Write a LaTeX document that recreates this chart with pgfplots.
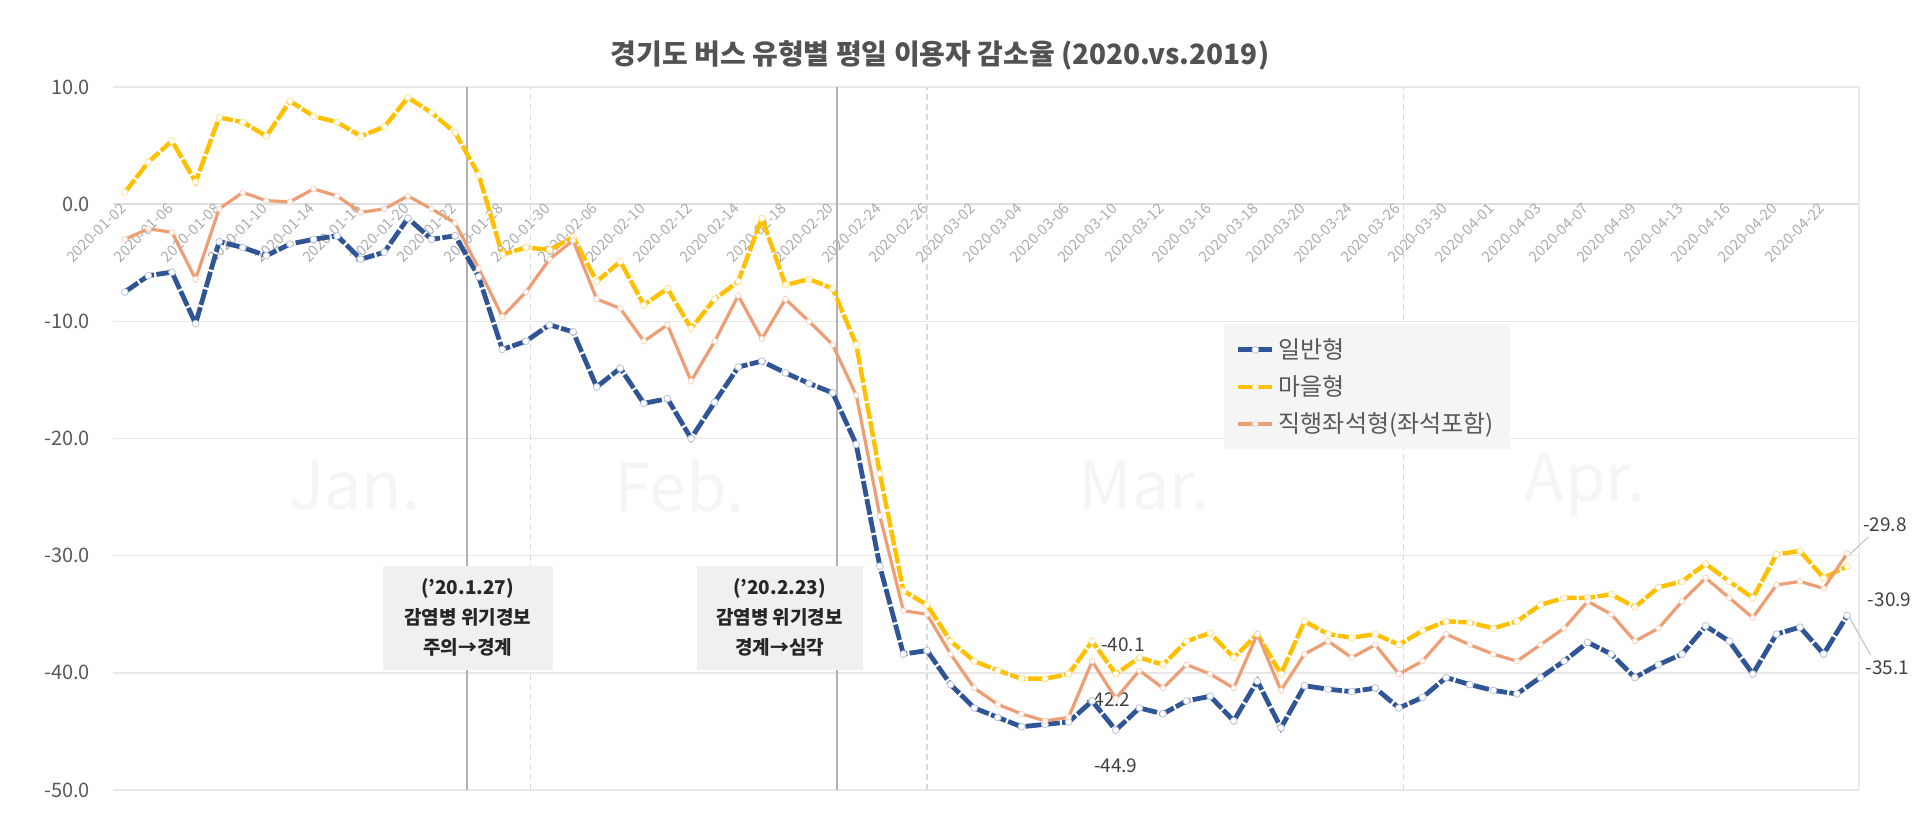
\documentclass[border=0pt]{standalone}
\usepackage{pgfplots}
\usepackage{pgfplotstable}
\pgfplotsset{compat=1.18}
\usepackage{fontspec}
\setmainfont{Noto Sans CJK KR}

\definecolor{cblue}{HTML}{2F5597}
\definecolor{cyellow}{HTML}{FFC000}
\definecolor{corange}{HTML}{EE9E74}
\definecolor{ctext}{HTML}{595959}

% idx  일반형  마을형  직행좌석형
\pgfplotstableread{
i  blue   yellow  orange
0  -7.5   1.0   -3.0
1  -6.1   3.6   -2.1
2  -5.8   5.4   -2.4
3  -10.2  1.9   -6.4
4  -3.2   7.4   -0.4
5  -3.7   7.0    1.0
6  -4.4   5.8    0.3
7  -3.4   8.8    0.2
8  -3.0   7.5    1.3
9  -2.7   7.0    0.7
10 -4.7   5.8   -0.7
11 -4.1   6.6   -0.4
12 -1.2   9.1    0.7
13 -3.0   7.8   -0.4
14 -2.7   6.1   -1.6
15 -6.2   2.5   -5.5
16 -12.4 -4.3   -9.6
17 -11.7 -3.7   -7.5
18 -10.3 -3.9   -4.7
19 -10.9 -2.8   -3.1
20 -15.6 -6.6   -8.1
21 -14.0 -4.9   -8.9
22 -17.0 -8.6   -11.7
23 -16.6 -7.2   -10.3
24 -20.0 -10.6  -15.1
25 -16.9 -8.1   -11.7
26 -13.9 -6.6   -7.8
27 -13.4 -1.2   -11.5
28 -14.4 -6.9   -8.1
29 -15.3 -6.4   -10.0
30 -16.1 -7.2   -12.0
31 -20.5 -12.0  -16.3
32 -30.9 -23.0  -26.6
33 -38.4 -33.0  -34.7
34 -38.1 -34.2  -35.0
35 -41.0 -37.3  -38.4
36 -43.0 -39.0  -41.3
37 -43.8 -39.8  -42.7
38 -44.6 -40.5  -43.5
39 -44.4 -40.5  -44.1
40 -44.2 -40.1  -43.8
41 -42.4 -37.3  -39.0
42 -44.9 -40.1  -42.2
43 -43.0 -38.7  -39.8
44 -43.5 -39.3  -41.3
45 -42.4 -37.3  -39.3
46 -42.0 -36.6  -40.1
47 -44.1 -38.7  -41.3
48 -40.7 -36.7  -36.7
49 -44.7 -40.1  -41.5
50 -41.1 -35.6  -38.4
51 -41.4 -36.7  -37.3
52 -41.6 -37.0  -38.7
53 -41.3 -36.7  -37.6
54 -43.0 -37.6  -40.1
55 -42.1 -36.4  -39.0
56 -40.4 -35.6  -36.7
57 -41.0 -35.7  -37.6
58 -41.5 -36.2  -38.4
59 -41.8 -35.6  -39.0
60 -40.4 -34.2  -37.6
61 -39.0 -33.6  -36.2
62 -37.4 -33.6  -33.9
63 -38.4 -33.3  -35.0
64 -40.4 -34.4  -37.3
65 -39.3 -32.7  -36.2
66 -38.4 -32.2  -33.9
67 -36.0 -30.7  -31.9
68 -37.3 -32.2  -33.6
69 -40.1 -33.6  -35.3
70 -36.7 -29.9  -32.5
71 -36.1 -29.6  -32.2
72 -38.4 -31.9  -32.8
73 -35.1 -30.9  -29.8
}\busdata

\begin{document}
\begin{tikzpicture}
\useasboundingbox (-56.5pt,-14.5pt) rectangle (903.5pt,395pt);
\begin{axis}[
  at={(0,0)}, anchor=south west,
  width=873pt, height=351.5pt, scale only axis,
  xmin=-0.5, xmax=73.5, ymin=-50, ymax=10,
  clip=false,
  axis x line*=middle, axis y line*=left,
  x axis line style={draw=gray!25, line width=0.9pt, -},
  y axis line style={draw=none},
  major tick length=0pt,
  ymajorgrids, major grid style={draw=gray!18, line width=0.8pt},
  ytick={-50,-40,...,10},
  /pgf/number format/fixed,
  /pgf/number format/fixed zerofill,
  /pgf/number format/precision=1,
  /pgf/number format/assume math mode=true,
  yticklabel style={font=\fontsize{10}{12}\selectfont, text=ctext, xshift=-8pt},
  xtick={0,2,...,72},
  xticklabels={2020-01-02,2020-01-06,2020-01-08,2020-01-10,2020-01-14,2020-01-16,2020-01-20,2020-01-22,2020-01-28,2020-01-30,2020-02-06,2020-02-10,2020-02-12,2020-02-14,2020-02-18,2020-02-20,2020-02-24,2020-02-26,2020-03-02,2020-03-04,2020-03-06,2020-03-10,2020-03-12,2020-03-16,2020-03-18,2020-03-20,2020-03-24,2020-03-26,2020-03-30,2020-04-01,2020-04-03,2020-04-07,2020-04-09,2020-04-13,2020-04-16,2020-04-20,2020-04-22},
  xticklabel style={rotate=45, anchor=east, font=\fontsize{7.4}{8}\selectfont, text=gray!65, inner sep=1pt},
  legend style={at={(rel axis cs:0.636,0.663)}, anchor=north west, fill=gray!8, draw=none,
    font=\fontsize{12}{14}\selectfont, text=ctext, row sep=3pt, inner xsep=6pt, inner ysep=5pt},
  legend cell align=left,
]
% month labels
\node[font=\fontsize{33}{33}\selectfont, text=gray!8] at (axis cs:9.75,-24) {Jan.};
\node[font=\fontsize{33}{33}\selectfont, text=gray!8] at (axis cs:23.5,-24) {Feb.};
\node[font=\fontsize{33}{33}\selectfont, text=gray!8] at (axis cs:43.2,-24) {Mar.};
\node[font=\fontsize{33}{33}\selectfont, text=gray!8] at (axis cs:61.9,-24) {Apr.};
% month boundaries and plot border
\draw[gray!30, line width=0.8pt, dash pattern=on 3pt off 2pt] (axis cs:17.2,-50) -- (axis cs:17.2,10);
\draw[gray!30, line width=0.8pt, dash pattern=on 3pt off 2pt] (axis cs:34.0,-50) -- (axis cs:34.0,10);
\draw[gray!30, line width=0.8pt, dash pattern=on 3pt off 2pt] (axis cs:54.2,-50) -- (axis cs:54.2,10);
\draw[gray!15, line width=0.8pt] (axis cs:73.5,-50) -- (axis cs:73.5,10);
% event lines
\draw[gray!60, line width=1.1pt] (axis cs:14.5,-50) -- (axis cs:14.5,10);
\draw[gray!60, line width=1.1pt] (axis cs:30.2,-50) -- (axis cs:30.2,10);
\node[fill=gray!12, minimum width=85pt, minimum height=52pt, align=center, text=black!85,
  font=\bfseries\fontsize{9.5}{15}\selectfont] at (axis cs:14.53,-35.3)
  {(’20.1.27)\\감염병 위기경보\\주의→경계};
\node[fill=gray!12, minimum width=83pt, minimum height=52pt, align=center, text=black!85,
  font=\bfseries\fontsize{9.5}{15}\selectfont] at (axis cs:27.75,-35.3)
  {(’20.2.23)\\감염병 위기경보\\경계→심각};
\node[font=\fontsize{9.5}{11}\selectfont, text=black!75] at (axis cs:41.7,-42.3) {-42.2};

\addplot[color=cblue, line width=2.4pt, dash pattern=on 8pt off 1.2pt,
  mark=*, mark size=1.7pt, mark options={solid, fill=white, draw=cblue!35, line width=0.4pt}]
  table[x=i, y=blue] {\busdata};
\addlegendentry{일반형}
\addplot[color=cyellow, line width=2.2pt, dash pattern=on 8pt off 1.2pt,
  mark=*, mark size=1.6pt, mark options={solid, fill=white, draw=cyellow!45, line width=0.4pt}]
  table[x=i, y=yellow] {\busdata};
\addlegendentry{마을형}
\addplot[color=corange, line width=1.6pt,
  mark=*, mark size=1.4pt, mark options={solid, fill=white, draw=corange!45, line width=0.4pt}]
  table[x=i, y=orange] {\busdata};
\addlegendentry{직행좌석형(좌석포함)}

% data labels
\node[font=\fontsize{9.5}{11}\selectfont, text=black!75] at (axis cs:42.3,-37.6) {-40.1};
\node[font=\fontsize{9.5}{11}\selectfont, text=black!75] at (axis cs:42.0,-47.9) {-44.9};
\draw[gray!50, line width=0.5pt] (axis cs:73.1,-29.9) -- (axis cs:73.9,-28.4);
\draw[gray!50, line width=0.5pt] (axis cs:73.1,-35.3) -- (axis cs:74.0,-38.5);
\node[font=\fontsize{9.5}{11}\selectfont, text=black!75] at (axis cs:74.6,-27.4) {-29.8};
\node[font=\fontsize{9.5}{11}\selectfont, text=black!75] at (axis cs:74.8,-33.8) {-30.9};
\node[font=\fontsize{9.5}{11}\selectfont, text=black!75] at (axis cs:74.7,-39.6) {-35.1};
\end{axis}
\node[font=\bfseries\fontsize{14}{16}\selectfont, text=black!68] at (413.5pt,367.5pt)
  {경기도 버스 유형별 평일 이용자 감소율 (2020.vs.2019)};
\end{tikzpicture}
\end{document}
